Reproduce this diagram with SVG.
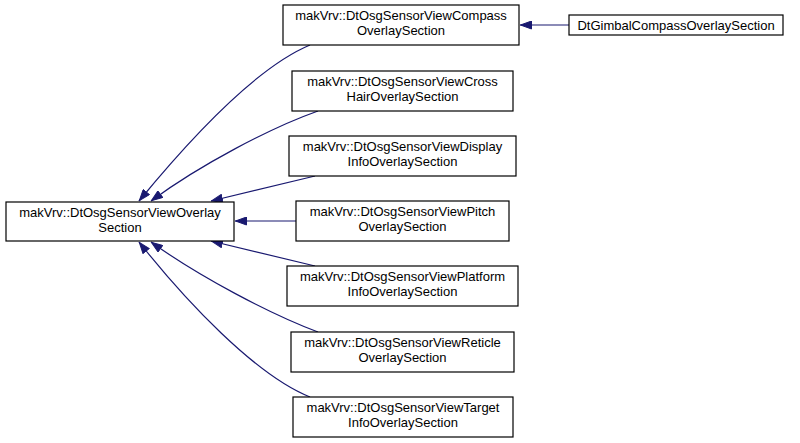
<svg xmlns="http://www.w3.org/2000/svg" width="800" height="443" viewBox="0 0 800 443">
<defs>
<style>
.box{fill:#fff;stroke:#000;stroke-width:1.2}
.t{font-family:"Liberation Sans",Arial,sans-serif;font-size:13px;fill:#000;text-anchor:middle}
.e{fill:none;stroke:#191970;stroke-width:1.2}
</style>
<marker id="ah" viewBox="0 0 12 9" refX="12" refY="4.5" markerWidth="12" markerHeight="9" markerUnits="userSpaceOnUse" orient="auto">
<path d="M0.5,0.5 L11.5,4.5 L0.5,8.5 Z" fill="#191970" stroke="#191970"/>
</marker>
</defs>
<rect width="800" height="443" fill="#fff"/>
<g id="edges">
<path class="e" marker-end="url(#ah)" d="M310,45 C255,68 185,145 139,201"/>
<path class="e" marker-end="url(#ah)" d="M318,111 C270,128 200,165 151,201"/>
<path class="e" marker-end="url(#ah)" d="M315,176 L211,201"/>
<path class="e" marker-end="url(#ah)" d="M296,221 L235,221"/>
<path class="e" marker-end="url(#ah)" d="M315,266 L211,241"/>
<path class="e" marker-end="url(#ah)" d="M318,332 C270,314 200,277 151,242"/>
<path class="e" marker-end="url(#ah)" d="M310,397 C255,375 185,300 139,242"/>
<path class="e" marker-end="url(#ah)" d="M569,25 L520,25"/>
</g>
<g id="base">
<rect class="box" x="6" y="202" width="228" height="39"/>
<text class="t" x="120" y="217">makVrv::DtOsgSensorViewOverlay</text>
<text class="t" x="120" y="232">Section</text>
</g>
<g id="compass">
<rect class="box" x="283" y="5" width="236" height="40"/>
<text class="t" x="401" y="20">makVrv::DtOsgSensorViewCompass</text>
<text class="t" x="401" y="35">OverlaySection</text>
</g>
<g id="gimbal">
<rect class="box" x="569" y="15" width="214" height="20"/>
<text class="t" x="676" y="30">DtGimbalCompassOverlaySection</text>
</g>
<g id="crosshair">
<rect class="box" x="292" y="71" width="221" height="40"/>
<text class="t" x="402.5" y="86">makVrv::DtOsgSensorViewCross</text>
<text class="t" x="402.5" y="101">HairOverlaySection</text>
</g>
<g id="display">
<rect class="box" x="289" y="136" width="227" height="40"/>
<text class="t" x="402.5" y="151">makVrv::DtOsgSensorViewDisplay</text>
<text class="t" x="402.5" y="166">InfoOverlaySection</text>
</g>
<g id="pitch">
<rect class="box" x="296" y="201" width="213" height="40"/>
<text class="t" x="402.5" y="216">makVrv::DtOsgSensorViewPitch</text>
<text class="t" x="402.5" y="231">OverlaySection</text>
</g>
<g id="platform">
<rect class="box" x="287" y="266" width="231" height="40"/>
<text class="t" x="402.5" y="281">makVrv::DtOsgSensorViewPlatform</text>
<text class="t" x="402.5" y="296">InfoOverlaySection</text>
</g>
<g id="reticle">
<rect class="box" x="291" y="332" width="223" height="40"/>
<text class="t" x="402.5" y="347">makVrv::DtOsgSensorViewReticle</text>
<text class="t" x="402.5" y="362">OverlaySection</text>
</g>
<g id="target">
<rect class="box" x="293" y="397" width="220" height="40"/>
<text class="t" x="403" y="412">makVrv::DtOsgSensorViewTarget</text>
<text class="t" x="403" y="427">InfoOverlaySection</text>
</g>
</svg>
